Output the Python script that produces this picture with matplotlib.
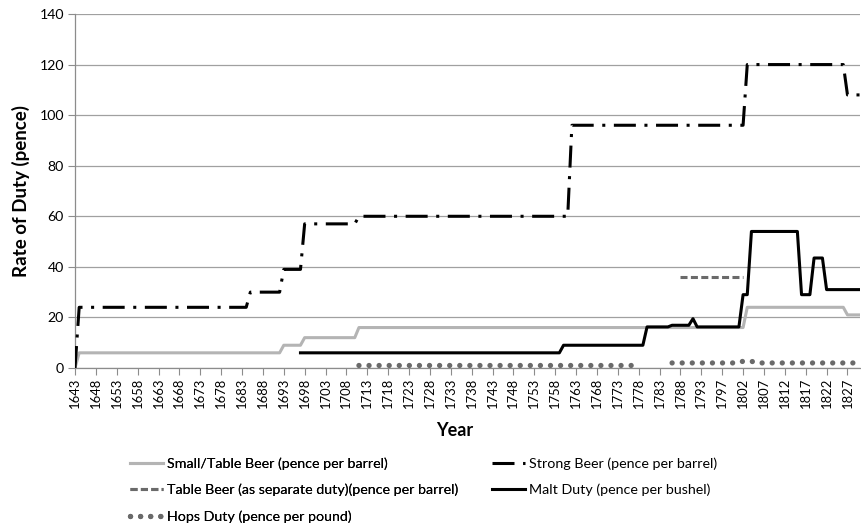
import numpy as np
import matplotlib
matplotlib.use("Agg")
import matplotlib.pyplot as plt
from matplotlib.lines import Line2D

plt.rcParams['font.family'] = ['Lato', 'DejaVu Sans']

# category axis (one year appears twice in the source data)
years = list(range(1643, 1795)) + [1794] + list(range(1795, 1831))
tick_step = 5

# change points: (first year, value); None = no data
small_beer = [(1643, 0), (1644, 6), (1693, 9), (1698, 12), (1711, 16), (1803, 24), (1827, 21)]
strong_beer = [(1643, 0), (1644, 24), (1685, 30), (1693, 39), (1698, 57), (1711, 60),
               (1762, 96), (1803, 120), (1827, 108)]
table_beer_sep = [(1788, 36)]
table_beer_sep_end = 1802
malt_duty = [(1697, 6), (1760, 9), (1780, 16.25), (1786, 16.9), (1791, 19.5), (1792, 16.25),
             (1802, 29), (1804, 54), (1816, 29), (1819, 43.5), (1822, 31)]
hops_duty = [(1711, 1), (1778, None), (1786, 2), (1802, 2.7), (1805, 2)]
last_year = 1830


def expand(changes, end=last_year):
    vals = np.full(len(years), np.nan)
    nxt_years = [c[0] for c in changes[1:]] + [end + 1]
    for (y0, v), y1 in zip(changes, nxt_years):
        i0 = years.index(y0)
        i1 = years.index(y1) if y1 in years else len(years)
        if v is not None:
            vals[i0:i1] = v
    return vals


x = np.arange(len(years))

fig = plt.figure(figsize=(8.61, 5.26), dpi=100)
ax = fig.add_axes([75 / 861, 1 - 368 / 526, 785 / 861, 354 / 526])

grey_small = '#b4b4b4'
grey_dark = '#6a6a6a'
strong_dash = (7.2, 2.8, 1, 2.8)
table_dash = (2.3, 1.1)
hops_dot = (0.01, 1.9)

ax.plot(x, expand(small_beer), color=grey_small, lw=2.2, zorder=3)
ax.plot(x, expand(strong_beer), color='black', lw=2.2, dashes=strong_dash,
        dash_capstyle='butt', zorder=4)
ax.plot(x, expand(table_beer_sep, table_beer_sep_end), color=grey_dark, lw=2.2,
        dashes=table_dash, zorder=4)
ax.plot(x, expand(malt_duty), color='black', lw=2.2, zorder=5)
ax.plot(x, expand(hops_duty), color=grey_dark, lw=3.8, dashes=hops_dot,
        dash_capstyle='round', zorder=5)

ax.set_xlim(0, len(years) - 1)
ax.set_ylim(0, 140)
ax.set_yticks(range(0, 141, 20))
ax.yaxis.grid(True, color='#a0a0a0', lw=0.9)
ax.set_axisbelow(True)
tick_pos = list(range(0, len(years), tick_step))
ax.set_xticks(tick_pos)
ax.set_xticklabels([str(years[i]) for i in tick_pos], rotation=90, fontsize=9.4)
ax.tick_params(axis='y', labelsize=10.2, length=5, color='#8c8c8c', pad=3)
ax.tick_params(axis='x', length=5, color='#8c8c8c', pad=2)
for s in ['top', 'right']:
    ax.spines[s].set_visible(False)
for s in ['left', 'bottom']:
    ax.spines[s].set_color('#8c8c8c')
    ax.spines[s].set_linewidth(0.9)

ax.set_ylabel('Rate of Duty (pence)', fontsize=13.5, fontweight='bold', labelpad=7)
fig.text(455 / 861, 1 - 431 / 526, 'Year', fontsize=13, fontweight='bold',
         ha='center', va='center')

h_small = Line2D([], [], color=grey_small, lw=2.2)
h_strong = Line2D([], [], color='black', lw=2.2, dashes=strong_dash)
h_table = Line2D([], [], color=grey_dark, lw=2.2, dashes=table_dash)
h_malt = Line2D([], [], color='black', lw=2.2)
h_hops = Line2D([], [], color=grey_dark, lw=3.8, dashes=hops_dot, dash_capstyle='round')

leg_kw = dict(loc='upper left', frameon=False, fontsize=10.3, handlelength=2.3,
              handletextpad=0.3, labelspacing=0.98, borderpad=0, borderaxespad=0)
leg1 = fig.legend([h_small, h_table, h_hops],
                  ['Small/Table Beer (pence per barrel)',
                   'Table Beer (as separate duty)(pence per barrel)',
                   'Hops Duty (pence per pound)'],
                  bbox_to_anchor=(130 / 861, 1 - 457 / 526), **leg_kw)
leg2 = fig.legend([h_strong, h_malt],
                  ['Strong Beer (pence per barrel)', 'Malt Duty (pence per bushel)'],
                  bbox_to_anchor=(492 / 861, 1 - 457 / 526), **leg_kw)
fig.add_artist(leg1)

fig.savefig('out.png', dpi=100)
